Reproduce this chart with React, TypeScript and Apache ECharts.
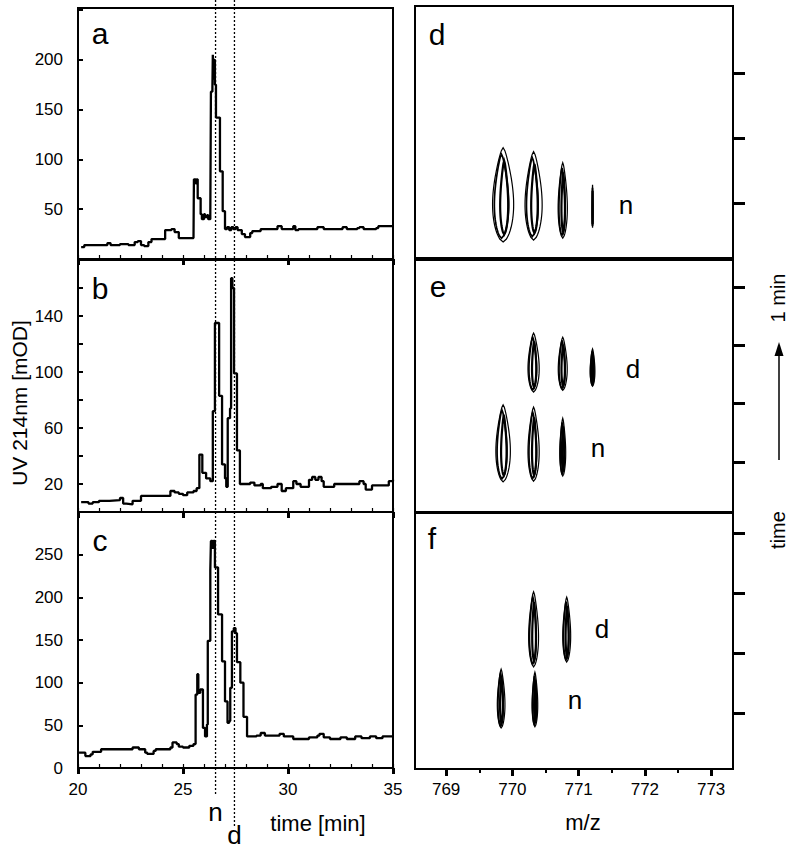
import React, { useEffect, useRef } from "react";
import * as echarts from "echarts";

// ---------- data ----------
// UV traces [time (min), UV 214nm (mOD)] as step changes
const traceA: number[][] = [
  [20.15, 12], [20.3, 14], [21.3, 14], [21.4, 16], [21.55, 14], [22.0, 15], [22.4, 14], [22.7, 17], [22.85, 18],
  [23.0, 14], [23.15, 13], [23.35, 17], [23.5, 20], [24.1, 20], [24.15, 29], [24.45, 30], [24.6, 27], [24.8, 21],
  [25.5, 21], [25.52, 80], [25.6, 76], [25.65, 80], [25.7, 61], [25.84, 45], [25.9, 40], [26.0, 45], [26.05, 42],
  [26.15, 44], [26.2, 40], [26.3, 43], [26.33, 168], [26.4, 172], [26.42, 205], [26.45, 180], [26.48, 200],
  [26.52, 175], [26.57, 142], [26.76, 88], [26.89, 48], [27.0, 30], [27.1, 32], [27.2, 29], [27.3, 32], [27.4, 30],
  [27.5, 32], [27.6, 29], [27.8, 25], [27.95, 22], [28.2, 26], [28.3, 28], [28.7, 30], [29.4, 30], [29.5, 33],
  [29.7, 30], [30.2, 30], [30.25, 33], [30.35, 29], [30.5, 30], [31.3, 30], [31.4, 32], [31.7, 30], [32.5, 30],
  [32.6, 32], [32.8, 30], [33.3, 31], [33.4, 32], [33.6, 30], [34.2, 31], [34.3, 33], [35, 33],
];
const traceB: number[][] = [
  [20.15, 7], [20.5, 6], [20.7, 7], [21.0, 8], [21.5, 8.5], [22.0, 10], [22.15, 6], [22.3, 5.5], [22.6, 8],
  [23.0, 11.5], [24.3, 11.5], [24.4, 15], [24.6, 14], [24.8, 13], [25.0, 12], [25.2, 14], [25.5, 15], [25.65, 17],
  [25.78, 41], [25.92, 28], [26.1, 24], [26.3, 22], [26.42, 72], [26.52, 135], [26.72, 83], [26.86, 34],
  [27.0, 24], [27.06, 18], [27.13, 67], [27.24, 74], [27.29, 167], [27.35, 160], [27.43, 99], [27.57, 44],
  [27.71, 20], [28.0, 20], [28.2, 21], [28.4, 19], [28.7, 20], [28.8, 17], [29.2, 18], [29.5, 20], [29.7, 15],
  [29.9, 17], [30.25, 22], [30.4, 20], [30.6, 18], [31.0, 23], [31.15, 25], [31.3, 23], [31.45, 25], [31.6, 22],
  [31.7, 18], [32.2, 20], [33.3, 20], [33.4, 22], [33.6, 20], [33.7, 16], [34.0, 19], [34.8, 22], [35, 23],
];
const traceC: number[][] = [
  [20.05, 18], [20.35, 14], [20.6, 16], [20.7, 19], [21.1, 22], [22.5, 22], [22.6, 24], [22.9, 22], [23.2, 18],
  [23.3, 16.5], [23.6, 20], [23.7, 22], [24.4, 24], [24.5, 30], [24.7, 28], [24.8, 25], [25.0, 24], [25.3, 26],
  [25.5, 28], [25.6, 86], [25.68, 110], [25.73, 88], [25.82, 92], [25.95, 47], [26.05, 37], [26.14, 51],
  [26.18, 149], [26.3, 231], [26.33, 266], [26.4, 258], [26.45, 266], [26.52, 235], [26.67, 180], [26.86, 125],
  [27.0, 78], [27.12, 53], [27.2, 55], [27.25, 94], [27.33, 160], [27.42, 164], [27.5, 158], [27.57, 124],
  [27.73, 100], [27.88, 60], [28.05, 37], [28.5, 38], [28.7, 41], [28.9, 38], [29.5, 38], [29.6, 40], [29.8, 37],
  [30.2, 37], [30.25, 34], [30.8, 34], [31.0, 36], [31.4, 38], [31.5, 40], [31.7, 36], [32.0, 34], [32.5, 36],
  [32.8, 34], [33.2, 37], [33.5, 35], [33.9, 37], [34.2, 35], [34.5, 37], [35, 37],
];

// MS contour peaks [m/z, time start, time end, half width (m/z)]
const peaksD: number[][] = [
  [769.86, 0.40, 1.85, 0.16], [770.32, 0.43, 1.79, 0.13], [770.76, 0.46, 1.62, 0.07], [771.21, 0.62, 1.28, 0.006],
];
const peaksE: number[][] = [
  [770.32, 2.20, 3.21, 0.085], [770.76, 2.23, 3.14, 0.068], [771.21, 2.30, 2.94, 0.036],
  [769.86, 0.66, 1.98, 0.11], [770.32, 0.67, 1.94, 0.085], [770.76, 0.76, 1.75, 0.045],
];
const peaksF: number[][] = [
  [770.32, 1.77, 3.02, 0.075], [770.82, 1.85, 2.93, 0.06], [769.83, 0.75, 1.73, 0.058], [770.34, 0.77, 1.68, 0.043],
];

const timeTicks = [20, 25, 30, 35];
const mzTicks = [769, 770, 771, 772, 773];
const mzMinorTicks = [769.5, 770.5, 771.5, 772.5];
const markerTimes = [26.55, 27.45];
const markerNames = ["n", "d"];
const panelNames = ["a", "b", "c", "d", "e", "f"];

const FONT = "'Liberation Sans', Arial, Helvetica, sans-serif";

function renderPeak(params: any, api: any) {
  const mz = api.value(0), tb = api.value(1), tt = api.value(2), hw = api.value(3);
  const b = api.coord([mz, tb]);
  const t = api.coord([mz, tt]);
  const w = api.coord([mz + hw, tb])[0] - b[0];
  const H = b[1] - t[1];
  const levels = [
    { k: 1, h0: 0, h1: 1, dx: 0, lw: 1.2 },
    { k: 0.68, h0: 0.04, h1: 0.93, dx: -0.15, lw: 1.7 },
    { k: 0.38, h0: 0.08, h1: 0.86, dx: 0.1, lw: 2.2 },
  ];
  const N = 32;
  const children = levels.map((l) => {
    const right: number[][] = [];
    const left: number[][] = [];
    for (let i = 0; i <= N; i++) {
      const s = i / N;
      const f = (Math.pow(Math.sin(Math.PI * s), 0.6) * (1 - 0.5 * s)) / 0.78;
      const y = b[1] - H * (l.h0 + (l.h1 - l.h0) * s);
      right.push([b[0] + w * l.dx + w * l.k * f, y]);
      left.push([b[0] + w * l.dx - w * l.k * f, y]);
    }
    const pts = right.concat(left.reverse());
    return {
      type: "polygon",
      shape: { points: pts },
      style: { fill: "none", stroke: "#000", lineWidth: l.lw },
    };
  });
  return { type: "group", children };
}

export default function App() {
  const ref = useRef<HTMLDivElement>(null);
  useEffect(() => {
    document.body.style.margin = "0";
    const chart = echarts.init(ref.current!, null, { renderer: "svg" });
    const gridStyle = { show: true, borderColor: "#000", borderWidth: 2, backgroundColor: "transparent" };
    const grids = [
      { left: 78, top: 8, width: 315, height: 251 },
      { left: 78, top: 260, width: 315, height: 252 },
      { left: 78, top: 512, width: 315, height: 256 },
      { left: 415, top: 6, width: 318, height: 252 },
      { left: 415, top: 260, width: 318, height: 252 },
      { left: 415, top: 513, width: 318, height: 256 },
    ].map((g) => ({ ...g, ...gridStyle }));

    const xAxes: any[] = [];
    for (let i = 0; i < 3; i++) {
      xAxes.push({
        type: "value", gridIndex: i, position: "bottom", min: 20, max: 35, interval: 5,
        axisLine: { show: false }, splitLine: { show: false },
        axisTick: { show: true, inside: false, length: 6, lineStyle: { color: "#000", width: 3 } },
        axisLabel: { show: i === 2, color: "#000", fontSize: 17, fontFamily: FONT, margin: 13,
          formatter: (v: number) => (timeTicks.includes(v) ? String(v) : "") },
      });
    }
    for (let i = 0; i < 3; i++) {
      xAxes.push({
        type: "value", gridIndex: i, position: "bottom", min: 20, max: 35, interval: 1,
        axisLine: { show: false }, splitLine: { show: false }, axisLabel: { show: false },
        axisTick: { show: true, inside: true, length: 4, lineStyle: { color: "#000", width: 1.2 } },
      });
    }
    for (let i = 3; i < 6; i++) {
      const isF = i === 5;
      xAxes.push({
        type: "value", gridIndex: i, position: "bottom", min: 768.53, max: 773.33,
        axisLine: { show: false }, splitLine: { show: false },
        axisTick: { show: isF, customValues: mzTicks, length: 7, lineStyle: { color: "#000", width: 3 } },
        axisLabel: { show: isF, customValues: mzTicks, color: "#000", fontSize: 17, fontFamily: FONT, margin: 12 },
      });
    }
    xAxes.push({
      type: "value", gridIndex: 5, position: "bottom", min: 768.53, max: 773.33,
      axisLine: { show: false }, splitLine: { show: false }, axisLabel: { show: false },
      axisTick: { show: true, customValues: mzMinorTicks, length: 4, lineStyle: { color: "#000", width: 2 } },
    });

    const yLabel = (show: (v: number) => boolean) => ({
      color: "#000", fontSize: 17, fontFamily: FONT, margin: 15,
      formatter: (v: number) => (show(v) ? String(v) : ""),
    });
    const leftTick = { show: true, inside: true, length: 5, lineStyle: { color: "#000", width: 2 } };
    const yAxes: any[] = [
      { type: "value", gridIndex: 0, min: 0, max: 252, interval: 50, axisLine: { show: false }, splitLine: { show: false },
        axisTick: leftTick, axisLabel: yLabel((v) => v >= 50 && v <= 200) },
      { type: "value", gridIndex: 1, min: 0, max: 180, interval: 20, axisLine: { show: false }, splitLine: { show: false },
        axisTick: leftTick, axisLabel: yLabel((v) => v % 40 === 20 && v <= 140) },
      { type: "value", gridIndex: 2, min: 0, max: 300, interval: 50, axisLine: { show: false }, splitLine: { show: false },
        axisTick: leftTick, axisLabel: yLabel((v) => v <= 250) },
    ];
    const rightRanges = [[0.154, 4.03, [1, 2, 3]], [0.142, 4.465, [1, 2, 3, 4]], [0.067, 4.333, [1, 2, 3, 4]]] as any[];
    rightRanges.forEach((r, k) => {
      yAxes.push({
        type: "value", gridIndex: 3 + k, position: "right", min: r[0], max: r[1],
        axisLine: { show: false }, splitLine: { show: false }, axisLabel: { show: false },
        axisTick: { show: true, inside: false, customValues: r[2], length: 12, lineStyle: { color: "#000", width: 3 } },
      });
    });

    const traces = [traceA, traceB, traceC];
    const series: any[] = traces.map((d, i) => ({
      type: "line", step: "end", xAxisIndex: i, yAxisIndex: i, data: d, showSymbol: false,
      lineStyle: { color: "#000", width: 2.3 }, silent: true,
    }));
    [peaksD, peaksE, peaksF].forEach((d, k) => {
      series.push({
        type: "custom", xAxisIndex: 6 + k, yAxisIndex: 3 + k, data: d, renderItem: renderPeak, silent: true,
      });
    });

    chart.setOption({ animation: false, grid: grids, xAxis: xAxes, yAxis: yAxes, series });

    const txt = (text: string, x: number, y: number, size: number, rot = 0) => ({
      type: "text", x, y, rotation: rot, z: 100,
      style: { text, fontSize: size, fontFamily: FONT, fill: "#000", align: "center", verticalAlign: "middle" },
    });
    const graphic: any[] = [];
    const letterPos = [[100, 33], [100, 288], [100, 540], [437, 34], [438, 286], [432, 538]];
    panelNames.forEach((n, i) => graphic.push(txt(n, letterPos[i][0], letterPos[i][1], 30)));

    const lineEnds = [796, 826];
    const labelY = [812, 835];
    markerTimes.forEach((t, i) => {
      const x = chart.convertToPixel({ gridIndex: 2 } as any, [t, 0])[0];
      graphic.push({ type: "line", z: 90, shape: { x1: x, y1: 0, x2: x, y2: lineEnds[i] },
        style: { stroke: "#000", lineWidth: 1.3, lineDash: [2, 2] } });
      graphic.push(txt(markerNames[i], x, labelY[i], 26));
    });
    graphic.push(txt("time [min]", 318, 823, 22));
    graphic.push(txt("m/z", 583, 822, 22));
    graphic.push(txt("UV 214nm [mOD]", 19, 403, 21, Math.PI / 2));

    graphic.push(txt("n", 626, 205, 26));
    graphic.push(txt("d", 633, 369, 26));
    graphic.push(txt("n", 598, 448, 26));
    graphic.push(txt("d", 602, 629, 26));
    graphic.push(txt("n", 575, 700, 26));

    graphic.push(txt("1 min", 778, 298, 20, Math.PI / 2));
    graphic.push(txt("time", 778, 530, 20, Math.PI / 2));
    graphic.push({ type: "line", shape: { x1: 779, y1: 460, x2: 779, y2: 352 }, style: { stroke: "#000", lineWidth: 1.5 } });
    graphic.push({ type: "polygon", shape: { points: [[779, 342], [774.5, 356], [783.5, 356]] }, style: { fill: "#000" } });

    chart.setOption({ graphic });
    return () => chart.dispose();
  }, []);
  return <div ref={ref} style={{ width: 791, height: 853 }} />;
}
